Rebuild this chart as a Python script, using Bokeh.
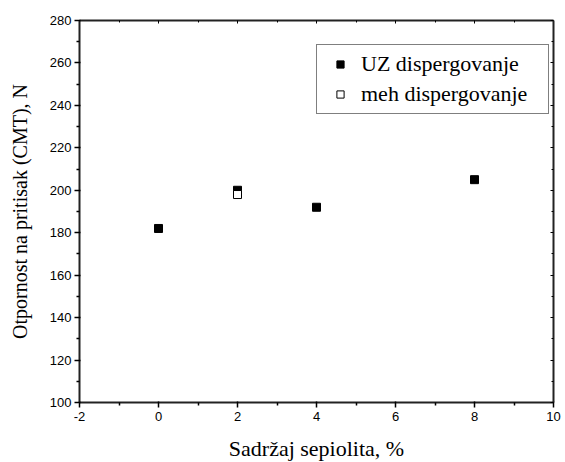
from bokeh.plotting import figure
from bokeh.models import LinearAxis, Range1d, Legend, LegendItem, FixedTicker, CustomJSTickFormatter
from bokeh.embed import file_html
from bokeh.resources import INLINE

# data
uz_x = [0, 2, 4, 8]
uz_y = [182, 200, 192, 205]
meh_x = [2]
meh_y = [198]
x_ticks = [-2, 0, 2, 4, 6, 8, 10]
y_ticks = [100, 120, 140, 160, 180, 200, 220, 240, 260, 280]
x_label = "Sadržaj sepiolita, %"
y_label = "Otpornost na pritisak (CMT), N"
uz_name = "UZ dispergovanje"
meh_name = "meh dispergovanje"

p = figure(width=565, height=458, output_backend="svg", toolbar_location=None,
           x_range=Range1d(-2, 10), y_range=Range1d(100, 280),
           min_border_left=79, min_border_top=20, min_border_right=12, min_border_bottom=56)
p.frame_width = 474
p.frame_height = 382
p.grid.visible = False
p.outline_line_color = None
p.background_fill_color = "white"
p.border_fill_color = "white"

x_minor = [v + 1 for v in x_ticks[:-1]]
y_minor = [v + 10 for v in y_ticks[:-1]]

plain = CustomJSTickFormatter(code="return tick.toString();")

for ax, ticks, minor in ((p.xaxis[0], x_ticks, x_minor), (p.yaxis[0], y_ticks, y_minor)):
    ax.ticker = FixedTicker(ticks=ticks, minor_ticks=minor)
    ax.formatter = plain
    ax.axis_line_width = 2
    ax.axis_line_color = "#222222"
    ax.major_tick_line_width = 1.5
    ax.minor_tick_line_width = 1.5
    ax.major_tick_out = 5
    ax.major_tick_in = 1
    ax.minor_tick_out = 3
    ax.minor_tick_in = 0
    ax.major_label_text_font = "Liberation Sans"
    ax.major_label_text_font_size = "13px"
    ax.major_label_text_color = "black"
    ax.axis_label_text_font = "Liberation Serif"
    ax.axis_label_text_font_style = "normal"
    ax.axis_label_text_color = "black"

p.xaxis[0].axis_label = x_label
p.yaxis[0].axis_label = y_label
p.xaxis[0].axis_label_text_font_size = "22px"
p.yaxis[0].axis_label_text_font_size = "20px"
p.xaxis[0].major_label_standoff = 4
p.xaxis[0].axis_label_standoff = 12
p.yaxis[0].major_label_standoff = 3
p.yaxis[0].axis_label_standoff = 16

blank = CustomJSTickFormatter(code="return '';")
top = LinearAxis(ticker=FixedTicker(ticks=x_ticks, minor_ticks=x_minor), formatter=blank)
right = LinearAxis(ticker=FixedTicker(ticks=y_ticks, minor_ticks=y_minor), formatter=blank)
for ax in (top, right):
    ax.axis_line_width = 2
    ax.axis_line_color = "#222222"
    ax.major_tick_in = 3
    ax.major_tick_out = 0
    ax.minor_tick_in = 2
    ax.minor_tick_out = 0
    ax.major_tick_line_width = 1
    ax.minor_tick_line_width = 1
    ax.major_label_standoff = 0
p.add_layout(top, "above")
p.add_layout(right, "right")

r1 = p.scatter(uz_x, uz_y, marker="square", size=8, fill_color="black", line_color="black")
r2 = p.scatter(meh_x, meh_y, marker="square", size=8, fill_color="white", line_color="black", line_width=1)

legend = Legend(items=[LegendItem(label=uz_name, renderers=[r1]),
                       LegendItem(label=meh_name, renderers=[r2])],
                location=(237, 288))
legend.label_text_font = "Liberation Serif"
legend.label_text_font_size = "22px"
legend.label_text_color = "black"
legend.border_line_color = "black"
legend.border_line_width = 1
legend.glyph_width = 34
legend.glyph_height = 18
legend.label_height = 26
legend.label_width = 181
legend.spacing = 4
legend.padding = 6
legend.margin = 0
legend.label_standoff = 4
legend.background_fill_alpha = 1
p.add_layout(legend, "center")

open("out.html", "w").write(file_html(p, INLINE))
